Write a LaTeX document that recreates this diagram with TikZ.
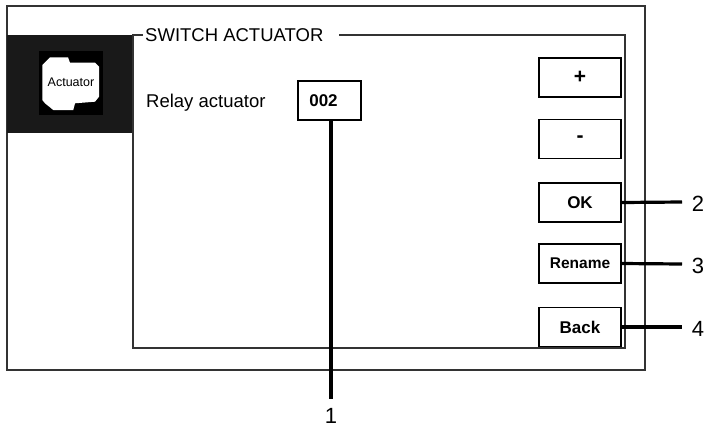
\documentclass[tikz,border=0pt]{standalone}
\usepackage{fontspec}
\setmainfont{Liberation Sans}
\begin{document}
\begin{tikzpicture}[x=1pt,y=-1pt,
  frame/.style={draw=black!80,line width=2pt},
  btn/.style={draw=black,line width=1.4pt,minimum width=82pt,minimum height=39pt,inner sep=0pt,font=\bfseries\fontsize{17}{19}\selectfont},
  leader/.style={draw=black,line width=3.2pt},
  callout/.style={font=\fontsize{22}{24}\selectfont,inner sep=0pt}]
\useasboundingbox (0,0) rectangle (709,429);
% outer frame
\draw[frame] (7,6) rectangle (645,370);
% dark side panel
\fill[black!90] (7,35) rectangle (133,133);
\fill[black] (39,51) rectangle (103,115);
\fill[white] (50,57.3) -- (68,57.3) -- (70,62.7) -- (95,62.7) -- (99,66.7) -- (99,96.7) -- (95,101.7) -- (75,103.3) -- (73.3,110) -- (53.3,110) -- (45,103.3) -- (42.3,100) -- (42.3,65) -- cycle;
\node[font=\fontsize{12.5}{14}\selectfont,inner sep=0pt] (icontext) at (71,82) {Actuator};
% inner frame
\node[anchor=west,inner sep=0pt,font=\fontsize{18.5}{20}\selectfont] (title) at (145,35) {SWITCH ACTUATOR};
\draw[frame] (143,35) -- (133,35) -- (133,348) -- (625,348) -- (625,35) -- (339,35);
\node[anchor=west,inner sep=0pt,font=\fontsize{18.5}{20}\selectfont] (relay) at (146,103) {Relay actuator};
\node[draw=black,line width=1.4pt,minimum width=63pt,minimum height=39pt,inner sep=0pt,font=\bfseries\fontsize{17}{19}\selectfont] (val) at (329.5,100.5) {\hspace*{-12pt}002};
% buttons
\node[btn,font=\bfseries\fontsize{21}{23}\selectfont] (plus) at (580,77.5) {+};
\node[btn,font=\bfseries\fontsize{21}{23}\selectfont] (minus) at (580,139) {-};
\node[btn] (ok) at (580,202.5) {OK};
\node[btn,font=\bfseries\fontsize{15.5}{17}\selectfont] (rename) at (580,263.5) {Rename};
\node[btn] (back) at (580,327) {Back};
% callouts
\coordinate (e1) at (331,399);
\coordinate (e2) at (682,202);
\coordinate (e3) at (682,264);
\coordinate (e4) at (682,327);
\draw[leader] (val.south -| e1) -- (e1);
\draw[leader] (ok.east) -- (e2);
\draw[leader] (rename.east) -- (e3);
\draw[leader] (back.east) -- (e4);
\node[callout] (n1) at (331,416) {1};
\node[callout] (n2) at (698,204) {2};
\node[callout] (n3) at (698,266) {3};
\node[callout] (n4) at (698,329) {4};
\end{tikzpicture}
\end{document}
